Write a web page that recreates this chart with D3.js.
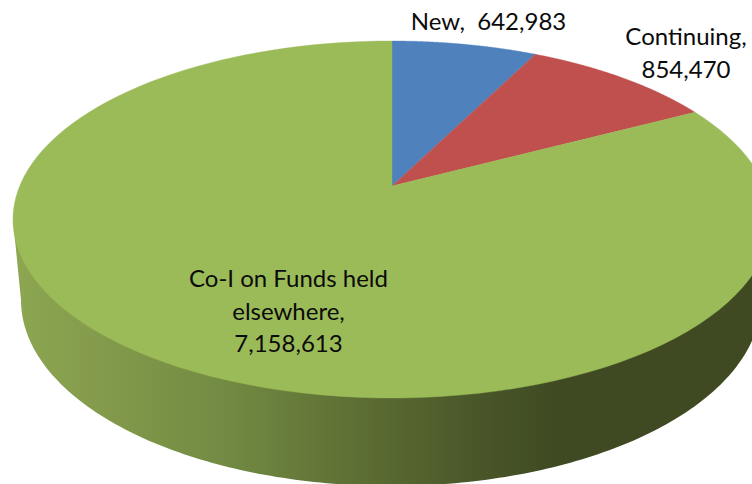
<!DOCTYPE html>
<html><head><meta charset="utf-8">
<script src="https://cdn.jsdelivr.net/npm/d3@7"></script>
<style>html,body{margin:0;padding:0;background:#fff;overflow:hidden}svg{display:block}text{font-family:Lato,"Open Sans",sans-serif;fill:#0b0b0b;white-space:pre}</style>
</head><body><svg id="c" width="752" height="484"></svg>
<script>
const categories = ["New", "Continuing", "Co-I on Funds held elsewhere"];
const values = [642983, 854470, 7158613];
const labelLines = [["New,  642,983"], ["Continuing,", "854,470"], ["Co-I on Funds held", "elsewhere,", "7,158,613"]];
const colors = ["#4f81bd", "#c0504d", "#9bbb59"];

const W = 752, H = 484;
const svg = d3.select("#c").attr("viewBox", [0, 0, W, H]);

// Perspective projection of the unit disc on to the page
const cx = 392, K = 372.3, C = 0.1877, A = -137.3, B = 186;
const project = a => {
  const v = Math.cos(a), s = Math.sin(a), d = C * v + 1;
  return [cx + K * s / d, (A * v + B) / d];
};
const apex = [cx, B];
const pie = d3.pie().sort(null).value(d => d)(values);
const arcPts = (a0, a1) => d3.range(0, 121).map(i => project(a0 + (a1 - a0) * i / 120));
const line = d3.line();

// Cylinder wall: bottom rim is an ellipse, wall spans the rim tangents
const bx = 391, by = 300, brx = 370, bry = 186;
const rim = d3.range(0, 181).map(i => {
  const t = Math.PI * i / 180;
  return [bx - brx * Math.cos(t), by + bry * Math.sin(t)];
});
const topLeft = [13, 219.5], topRight = [771, 219.5];

const grad = svg.append("defs").append("linearGradient").attr("id", "wall")
  .attr("gradientUnits", "userSpaceOnUse").attr("x1", 0).attr("x2", W).attr("y1", 0).attr("y2", 0);
[[0.02, "#8ca651"], [0.15, "#82994b"], [0.3, "#728a42"], [0.5, "#5a6b32"], [0.63, "#4a5729"], [0.74, "#3f4a22"], [1, "#3f4a22"]]
  .forEach(([o, c]) => grad.append("stop").attr("offset", o).attr("stop-color", c));

svg.append("path").attr("fill", "url(#wall)")
  .attr("d", line([topLeft, ...rim, topRight]) + "Z");
svg.append("g").selectAll("path").data(pie).join("path")
  .attr("fill", (d, i) => colors[i])
  .attr("stroke", (d, i) => colors[i]).attr("stroke-width", 0.4)
  .attr("d", d => line([apex, ...arcPts(d.startAngle, d.endAngle)]) + "Z");

const labelPos = [[488.5, 29.5], [686, 45], [288.5, 287]];
const lh = [0, 33, 32.5];
svg.append("g").selectAll("text").data(labelLines).join("text")
  .attr("text-anchor", "middle").attr("font-size", 24)
  .each(function (lines, i) {
    d3.select(this).selectAll("tspan").data(lines).join("tspan")
      .attr("x", labelPos[i][0]).attr("y", (d, j) => labelPos[i][1] + j * lh[i]).text(d => d);
  });
</script></body></html>
